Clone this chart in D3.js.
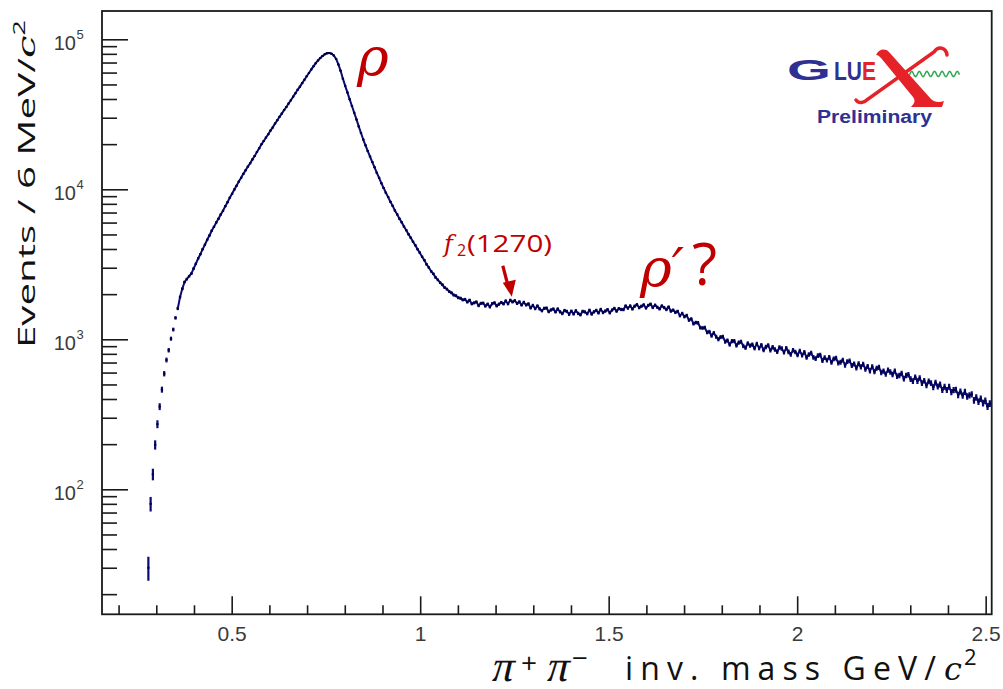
<!DOCTYPE html>
<html>
<head>
<meta charset="utf-8">
<script src="https://cdn.jsdelivr.net/npm/d3@7"></script>
<style>
  body { margin: 0; background: #fff; }
  svg { display: block; }
</style>
</head>
<body>
<div id="chart"></div>
<script>
// pi+ pi- invariant mass, 6 MeV/c^2 bins, first filled bin starts at threshold
var binStart = 0.276;
var binWidth = 0.006;
var counts = [
  30, 80, 126, 198, 272, 356, 462, 590, 728, 846,
  1010, 1162, 1390, 1605, 1912, 2170, 2410, 2520, 2635, 2742,
  2962, 3188, 3461, 3694, 3990, 4268, 4612, 4921, 5296, 5618,
  6012, 6370, 6795, 7205, 7716, 8204, 8796, 9331, 9968, 10580,
  11270, 11930, 12680, 13380, 14170, 14930, 15830, 16680, 17730, 18770,
  19930, 20970, 22140, 23270, 24640, 25870, 27430, 28870, 30440, 31960,
  33740, 35360, 37340, 39260, 41450, 43660, 46050, 48360, 51050, 53760,
  56750, 59660, 62950, 66060, 69340, 72260, 75050, 77460, 79540, 80760,
  81040, 80150, 78050, 73960, 68040, 61660, 54640, 48960, 44240, 39770,
  35940, 32370, 29240, 26270, 23740, 21470, 19630, 17970, 16530, 15180,
  14020, 12880, 11920, 10980, 10220, 9480, 8870, 8260, 7755, 7228,
  6802, 6371, 6022, 5648, 5341, 5010, 4752, 4470, 4238, 3982,
  3781, 3552, 3371, 3160, 3012, 2841, 2731, 2582, 2490, 2383,
  2310, 2212, 2161, 2082, 2041, 1972, 1951, 1893, 1880, 1832,
  1846, 1772, 1823, 1725, 1750, 1775, 1678, 1737, 1744, 1666,
  1717, 1644, 1729, 1751, 1671, 1715, 1760, 1723, 1803, 1725,
  1823, 1775, 1811, 1735, 1778, 1693, 1765, 1693, 1724, 1620,
  1683, 1602, 1669, 1594, 1552, 1608, 1617, 1530, 1570, 1593,
  1524, 1594, 1525, 1486, 1556, 1535, 1470, 1540, 1477, 1550,
  1488, 1458, 1535, 1523, 1482, 1561, 1474, 1525, 1559, 1501,
  1582, 1509, 1543, 1577, 1503, 1568, 1607, 1541, 1601, 1582,
  1578, 1669, 1614, 1670, 1594, 1664, 1703, 1625, 1662, 1698,
  1617, 1684, 1716, 1630, 1691, 1635, 1596, 1670, 1628, 1580,
  1643, 1542, 1566, 1512, 1535, 1438, 1487, 1416, 1442, 1343,
  1367, 1271, 1293, 1288, 1196, 1190, 1197, 1113, 1123, 1057,
  1102, 1040, 1001, 1035, 1040, 965, 982, 924, 973, 974,
  911, 951, 963, 903, 879, 939, 908, 922, 873, 932,
  874, 915, 849, 889, 912, 847, 886, 856, 827, 883,
  868, 820, 873, 825, 794, 846, 824, 787, 837, 784,
  819, 757, 792, 809, 758, 745, 778, 787, 722, 754,
  727, 758, 702, 741, 750, 695, 704, 727, 673, 710,
  718, 670, 686, 646, 687, 655, 682, 632, 660, 617,
  657, 609, 642, 650, 601, 615, 586, 623, 606, 583,
  614, 567, 574, 592, 546, 575, 581, 543, 527, 560,
  527, 553, 510, 530, 494, 525, 510, 480, 515, 485,
  500, 460, 483, 460, 483, 445, 459, 462, 426, 449,
  422, 447, 416, 423, 430, 392, 410, 384, 402, 376,
  389, 357, 373
];
var xTickValues = [0.5, 1, 1.5, 2, 2.5];
var xTickLabels = ["0.5", "1", "1.5", "2", "2.5"];
var yTickValues = [1e2, 1e3, 1e4, 1e5];
var yTickExponents = ["2", "3", "4", "5"];

var W = 1003, H = 689;
var frame = {left: 102, top: 11, right: 991.7, bottom: 614.3};
var red = "#c00000", ink = "#1a1a1a", dataCol = "#0a0a78";

var x = d3.scaleLinear().domain([0.156, 2.516]).range([frame.left, frame.right]);
var y = d3.scaleLog().domain([14.68, 154400]).range([frame.bottom, frame.top]);

var svg = d3.select("#chart").append("svg")
    .attr("width", W).attr("height", H)
    .attr("viewBox", "0 0 " + W + " " + H);
svg.append("rect").attr("width", W).attr("height", H).attr("fill", "#fff");

// ---- axes (ticks point inwards, ROOT style)
var xMinor = d3.range(2, 26).map(function(d){ return d / 10; })
    .filter(function(d){ return xTickValues.indexOf(d) < 0; });
var yMinor = [];
[10, 100, 1000, 10000].forEach(function(b){
  d3.range(2, 10).forEach(function(k){ yMinor.push(k * b); });
});

function tidy(g){
  g.select(".domain").remove();
  g.attr("color", ink).selectAll("line").attr("stroke-width", 1.6);
}

svg.append("g").attr("transform", "translate(0," + frame.bottom + ")")
  .call(d3.axisBottom(x).tickValues(xMinor).tickSize(-9).tickFormat(""))
  .call(tidy);

var xAxis = svg.append("g").attr("transform", "translate(0," + frame.bottom + ")")
  .call(d3.axisBottom(x).tickValues(xTickValues).tickSize(-18).tickPadding(12)
        .tickFormat(function(d, i){ return xTickLabels[i]; }))
  .call(tidy);
xAxis.selectAll("text")
  .attr("font-family", "'Liberation Sans', Arial, sans-serif")
  .attr("font-size", 21).attr("fill", "#3a3a3a");

svg.append("g").attr("transform", "translate(" + frame.left + ",0)")
  .call(d3.axisLeft(y).tickValues(yMinor).tickSize(-15).tickFormat(""))
  .call(tidy);
svg.append("g").attr("transform", "translate(" + frame.left + ",0)")
  .call(d3.axisLeft(y).tickValues(yTickValues).tickSize(-26).tickFormat(""))
  .call(tidy);

var yLab = svg.append("g")
  .attr("font-family", "'Liberation Sans', Arial, sans-serif").attr("fill", "#3a3a3a");
yTickValues.forEach(function(v, i){
  yLab.append("text").attr("x", 76).attr("y", y(v) + 11)
    .attr("text-anchor", "end").attr("font-size", 20).text("10");
  yLab.append("text").attr("x", 76.5).attr("y", y(v) + 0)
    .attr("font-size", 13).text(yTickExponents[i]);
});

// ---- data: bin crosses (sqrt(N) errors); neighbours joined except in the
// sparse threshold region where the points stay separate
var bins = counts.map(function(c, i){
  var lo = binStart + binWidth * i;
  return {lo: lo, hi: lo + binWidth, m: lo + binWidth / 2, v: c, e: Math.sqrt(c)};
});
var links = d3.pairs(bins).filter(function(p){
  return Math.min(p[0].v, p[1].v) >= 1500 || Math.abs(y(p[0].v) - y(p[1].v)) < 6;
});

svg.append("clipPath").attr("id", "plotclip").append("rect")
  .attr("x", frame.left).attr("y", frame.top)
  .attr("width", frame.right - frame.left).attr("height", frame.bottom - frame.top);

var plot = svg.append("g").attr("clip-path", "url(#plotclip)");

plot.selectAll("line.link").data(links).enter().append("line").attr("class", "link")
  .attr("x1", function(p){ return x(p[0].m); }).attr("y1", function(p){ return y(p[0].v); })
  .attr("x2", function(p){ return x(p[1].m); }).attr("y2", function(p){ return y(p[1].v); })
  .attr("stroke", dataCol).attr("stroke-width", 2).attr("stroke-linecap", "round");

plot.selectAll("line.err").data(bins).enter().append("line").attr("class", "err")
  .attr("x1", function(d){ return x(d.m); }).attr("x2", function(d){ return x(d.m); })
  .attr("y1", function(d){ return y(d.v - d.e); }).attr("y2", function(d){ return y(d.v + d.e); })
  .attr("stroke", dataCol).attr("stroke-width", 2.2);

plot.selectAll("line.bw").data(bins).enter().append("line").attr("class", "bw")
  .attr("x1", function(d){ return x(d.lo); }).attr("x2", function(d){ return x(d.hi); })
  .attr("y1", function(d){ return y(d.v); }).attr("y2", function(d){ return y(d.v); })
  .attr("stroke", "#000038").attr("stroke-width", 2);

// ---- frame
svg.append("rect")
  .attr("x", frame.left).attr("y", frame.top)
  .attr("width", frame.right - frame.left).attr("height", frame.bottom - frame.top)
  .attr("fill", "none").attr("stroke", ink).attr("stroke-width", 1.8);

// ---- axis titles
var sans = "'Open Sans', 'Liberation Sans', sans-serif";
var serif = "'DejaVu Serif', 'Liberation Serif', serif";
var times = "'Liberation Serif', 'DejaVu Serif', serif";

var yTitle = svg.append("text").attr("font-family", sans).attr("font-size", 24).attr("fill", "#111");
yTitle.append("tspan").text("Events / 6 MeV/");
yTitle.append("tspan").attr("font-family", serif).attr("font-style", "italic").text("c");
yTitle.append("tspan").attr("dy", -10).attr("font-size", 16).text("2");
var yw = yTitle.node().getBBox().width;
yTitle.attr("transform", "translate(35,348) rotate(-90) scale(" + (328 / yw) + ",1)");

var xt = svg.append("g").attr("fill", "#111");
// upright pi slanted by a skew, so the glyph stays inside its own box
xt.append("text").attr("transform", "translate(490,681) skewX(-13)").attr("font-family", times)
  .attr("font-size", 44).text("\u03c0");
xt.append("text").attr("x", 521).attr("y", 673).attr("font-family", sans)
  .attr("font-size", 28).text("+");
xt.append("text").attr("transform", "translate(545,681) skewX(-13)").attr("font-family", times)
  .attr("font-size", 44).text("\u03c0");
xt.append("text").attr("x", 572).attr("y", 668).attr("font-family", sans)
  .attr("font-size", 28).text("\u2212");
var mass = xt.append("text").attr("x", 625).attr("y", 680).attr("font-family", sans)
  .attr("font-size", 32).text("inv. mass GeV/");
var mw = mass.node().getComputedTextLength();
mass.attr("letter-spacing", ((943 - 625) - mw) / 14);
xt.append("text").attr("x", 944).attr("y", 680).attr("font-family", serif)
  .attr("font-style", "italic").attr("font-size", 32).text("c");
xt.append("text").attr("x", 964).attr("y", 665).attr("font-family", sans)
  .attr("font-size", 22).text("2");

// ---- annotations
svg.append("text").attr("x", 357).attr("y", 76).attr("font-family", serif)
  .attr("font-style", "italic").attr("font-size", 54).attr("fill", red).text("\u03c1");
svg.append("text").attr("x", 640).attr("y", 287).attr("font-family", serif)
  .attr("font-style", "italic").attr("font-size", 54).attr("fill", red).text("\u03c1\u2032");
svg.append("text").attr("x", 692).attr("y", 285).attr("font-family", sans)
  .attr("font-size", 58).attr("fill", red).text("?");

var f2 = svg.append("g").attr("fill", red);
f2.append("text").attr("x", 444).attr("y", 252).attr("font-family", serif)
  .attr("font-style", "italic").attr("font-size", 24).text("f");
f2.append("text").attr("x", 457).attr("y", 256).attr("font-family", sans)
  .attr("font-size", 16).text("2");
f2.append("text").attr("x", 467).attr("y", 252).attr("font-family", sans)
  .attr("font-size", 24).attr("textLength", 85).attr("lengthAdjust", "spacingAndGlyphs")
  .text("(1270)");

var tip = [x(1.243), y(1780) - 5];
svg.append("line").attr("x1", tip[0] - 9).attr("y1", tip[1] - 31)
  .attr("x2", tip[0] - 3.5).attr("y2", tip[1] - 10)
  .attr("stroke", red).attr("stroke-width", 3.2);
svg.append("path")
  .attr("d", "M" + tip[0] + "," + tip[1] + " L" + (tip[0] - 9) + "," + (tip[1] - 14) +
             " L" + (tip[0] + 4) + "," + (tip[1] - 17) + "Z")
  .attr("fill", red);

// ---- GlueX logo
var logo = svg.append("g").attr("font-family", "'Liberation Sans', Arial, sans-serif")
  .attr("font-weight", "bold");
var blue = "#2e3192", lred = "#e52228";
var wave = d3.range(0, 54, 0.5).map(function(t){
  return [906 + t, 74 + 2.6 * Math.sin(t / 7.6 * 2 * Math.PI)];
});
logo.append("path").attr("d", d3.line()(wave)).attr("fill", "none")
  .attr("stroke", "#2fa84f").attr("stroke-width", 1.5);
logo.append("path")
  .attr("d", "M876,55 C879,49 885,48 889,52 L931,99 C934,102 939,103 944,101 " +
             "L942,107 L911,107 C914,104 916,101 913,97 L881,58 C879,56 878,55 876,55 Z")
  .attr("fill", lred);
logo.append("path")
  .attr("d", "M947,55 C946,47 938,46 934,52 L868,99 C864,103 859,104 856,100")
  .attr("fill", "none").attr("stroke", lred).attr("stroke-width", 3.5)
  .attr("stroke-linecap", "round");
logo.append("text").attr("x", 787).attr("y", 80).attr("font-size", 30).attr("fill", blue)
  .attr("textLength", 44).attr("lengthAdjust", "spacingAndGlyphs").text("G");
var lue = logo.append("text").attr("transform", "translate(834,80) scale(0.84,1)")
  .attr("font-size", 25).attr("fill", blue);
lue.append("tspan").text("LU");
lue.append("tspan").attr("fill", lred).text("E");
logo.append("text").attr("x", 817).attr("y", 123).attr("font-size", 18).attr("fill", blue)
  .attr("textLength", 115).attr("lengthAdjust", "spacingAndGlyphs").text("Preliminary");
</script>
</body>
</html>
